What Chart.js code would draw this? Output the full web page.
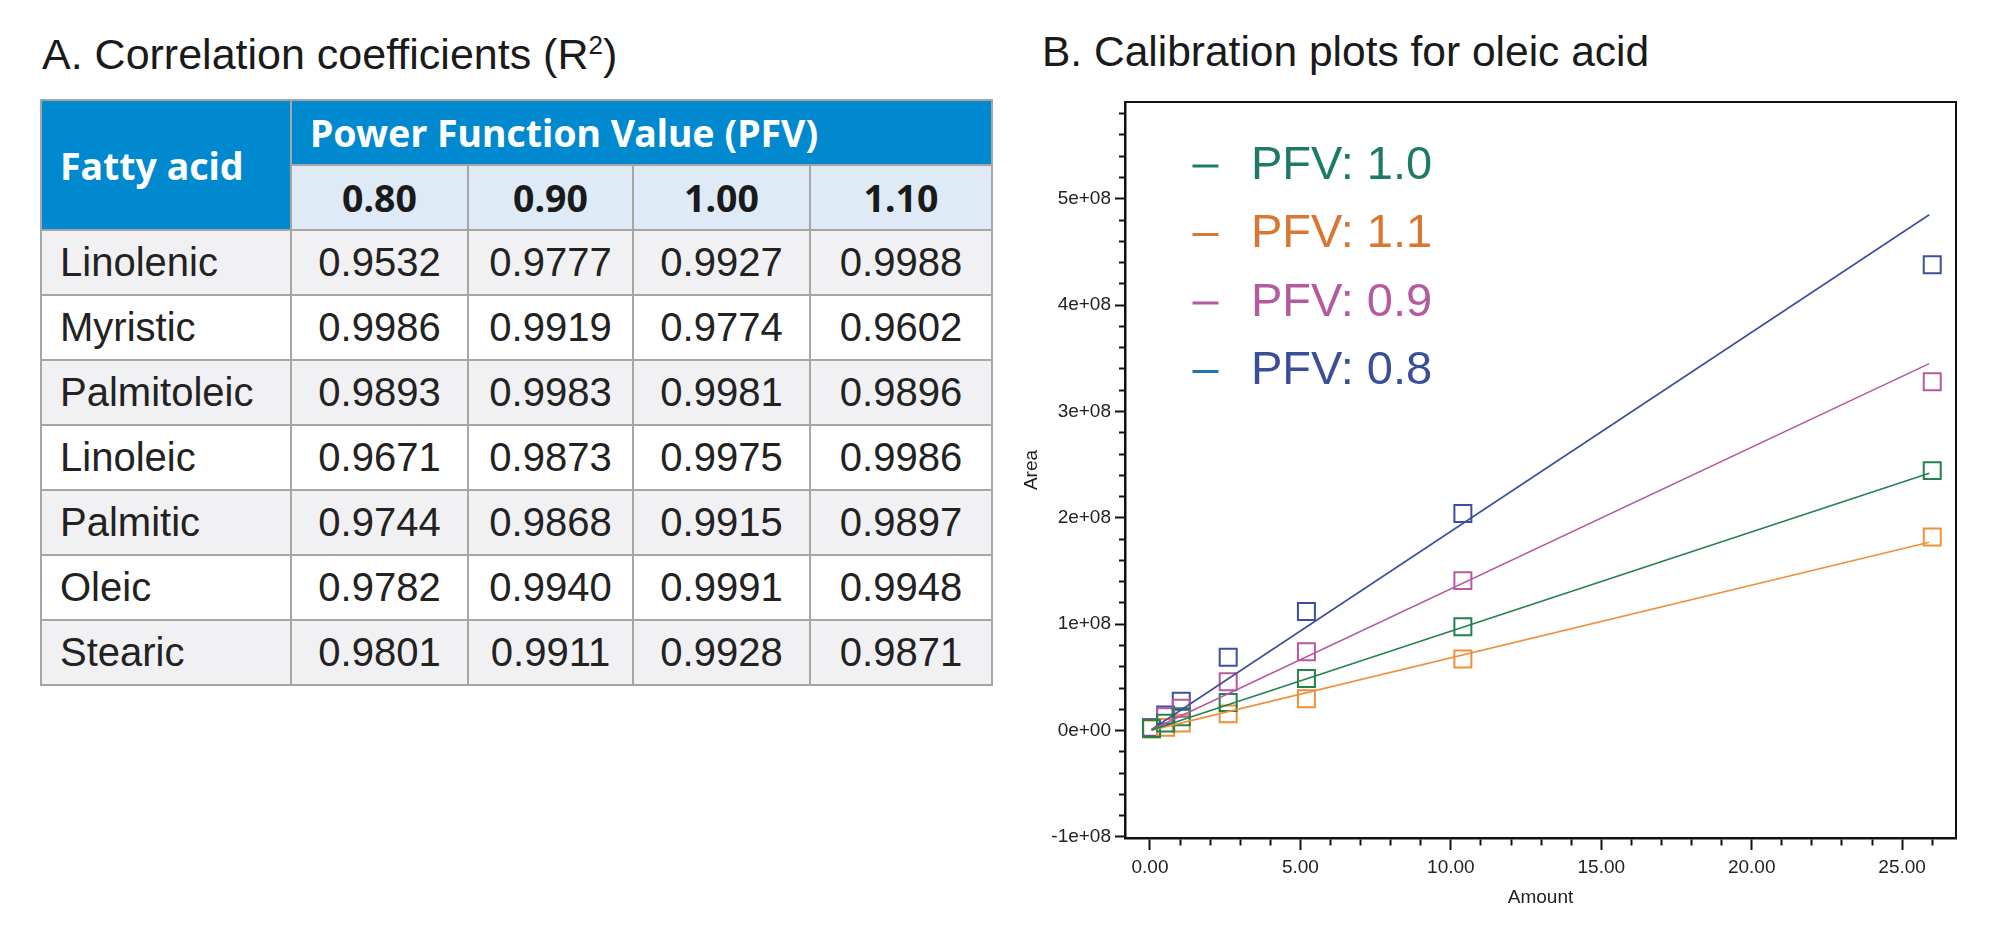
<!DOCTYPE html>
<html>
<head>
<meta charset="utf-8">
<title>Fatty acid calibration</title>
<script src="https://cdn.jsdelivr.net/npm/chart.js@4.4.1/dist/chart.umd.min.js"></script>
<style>
  html, body { margin: 0; padding: 0; background: #fff; }
  body { width: 2000px; height: 931px; position: relative; overflow: hidden;
         font-family: "Liberation Sans", Arial, sans-serif; color: #1a1a1a; }
  .panel-title { position: absolute; line-height: 42px; white-space: nowrap; }
  .panel-title sup { font-size: 26px; line-height: 0; vertical-align: 15px; }
  #titleA { left: 42px; top: 33px; font-size: 43px; }
  #titleB { left: 1042px; top: 31px; font-size: 42.5px; }

  #r2Table { position: absolute; left: 40px; top: 99px; width: 951px;
             border-collapse: collapse; table-layout: fixed; }
  #r2Table th, #r2Table td { border: 2px solid #a6a6a6; padding: 0; }
  #r2Table th { font-family: "Noto Sans", sans-serif; font-weight: 700; font-size: 37.5px; }
  #r2Table thead tr { height: 65px; }
  #r2Table tbody tr { height: 65px; }
  #r2Table th.blue { background: #0089cf; color: #fff; text-align: left; padding-left: 18px; }
  #r2Table th.pfv { background: #deebf7; color: #1a1a1a; text-align: center; }
  #r2Table td { font-size: 40px; color: #222; text-align: center; }
  #r2Table td.name { text-align: left; padding-left: 18px; }
  #r2Table tbody tr:nth-child(odd) td { background: #f1f1f4; }
  #r2Table tbody tr:nth-child(even) td { background: #fff; }

  #chartBox { position: absolute; left: 1000px; top: 80px; width: 1000px; height: 851px; }
</style>
</head>
<body>
<div id="titleA" class="panel-title">A. Correlation coefficients (R<sup>2</sup>)</div>
<div id="titleB" class="panel-title">B. Calibration plots for oleic acid</div>

<table id="r2Table">
  <colgroup>
    <col style="width:250px"><col style="width:177px"><col style="width:165px"><col style="width:177px"><col style="width:182px">
  </colgroup>
  <thead></thead>
  <tbody></tbody>
</table>

<div id="chartBox"><canvas id="calChart"></canvas></div>

<script>
// ── Table A: R² values per fatty acid and PFV ────────────────
const fattyAcids = ["Linolenic", "Myristic", "Palmitoleic", "Linoleic", "Palmitic", "Oleic", "Stearic"];
const pfvHeaders = ["0.80", "0.90", "1.00", "1.10"];
const r2Pfv080 = ["0.9532", "0.9986", "0.9893", "0.9671", "0.9744", "0.9782", "0.9801"];
const r2Pfv090 = ["0.9777", "0.9919", "0.9983", "0.9873", "0.9868", "0.9940", "0.9911"];
const r2Pfv100 = ["0.9927", "0.9774", "0.9981", "0.9975", "0.9915", "0.9991", "0.9928"];
const r2Pfv110 = ["0.9988", "0.9602", "0.9896", "0.9986", "0.9897", "0.9948", "0.9871"];

// ── Chart B: oleic acid calibration points ───────────────────
const amounts   = [0.052, 0.52, 1.04, 2.6, 5.2, 10.4, 26.0];
const areaPfv10 = [0.020e8, 0.070e8, 0.130e8, 0.263e8, 0.490e8, 0.977e8, 2.444e8];
const areaPfv11 = [0.015e8, 0.030e8, 0.070e8, 0.157e8, 0.300e8, 0.674e8, 1.820e8];
const areaPfv09 = [0.025e8, 0.130e8, 0.210e8, 0.460e8, 0.742e8, 1.410e8, 3.280e8];
const areaPfv08 = [0.030e8, 0.147e8, 0.275e8, 0.690e8, 1.120e8, 2.040e8, 4.380e8];

// fitted calibration lines (start / end of each drawn line)
const fitAmounts = [0.052, 25.9];
const fitPfv10   = [0.005e8, 2.42e8];
const fitPfv11   = [0.004e8, 1.77e8];
const fitPfv09   = [0.007e8, 3.45e8];
const fitPfv08   = [0.010e8, 4.85e8];

const seriesLabels = ["PFV: 1.0", "PFV: 1.1", "PFV: 0.9", "PFV: 0.8"];
const seriesAreas  = [areaPfv10, areaPfv11, areaPfv09, areaPfv08];
const seriesFits   = [fitPfv10, fitPfv11, fitPfv09, fitPfv08];
const markerColors = ["#23814f", "#f0903a", "#b8589f", "#3c4f9e"];
const legendText   = ["#1c7a66", "#d9762f", "#b45ba0", "#3a4e9a"];
const legendDash   = ["#1c7a66", "#d9762f", "#b45ba0", "#1e77aa"];

// axis ranges and tick marks (y: minor every 2e7, labelled every 1e8)
const xRange = [-0.83, 26.79];
const yRange = [-1.01e8, 5.91e8];
const yTickFirst = -1e8, yTickLast = 5.8e8, yTickStep = 2e7;

// ── build table ──────────────────────────────────────────────
const thead = document.querySelector("#r2Table thead");
const tbody = document.querySelector("#r2Table tbody");
thead.innerHTML =
  '<tr><th class="blue" rowspan="2">Fatty acid</th>' +
  '<th class="blue" colspan="4">Power Function Value (PFV)</th></tr>' +
  "<tr>" + pfvHeaders.map((h) => `<th class="pfv">${h}</th>`).join("") + "</tr>";
const r2Cols = [r2Pfv080, r2Pfv090, r2Pfv100, r2Pfv110];
fattyAcids.forEach((name, i) => {
  const tr = document.createElement("tr");
  tr.innerHTML = `<td class="name">${name}</td>` + r2Cols.map((c) => `<td>${c[i]}</td>`).join("");
  tbody.appendChild(tr);
});

// ── chart helpers ────────────────────────────────────────────
const FONT = "'Liberation Sans', Arial, sans-serif";
const tickFont = { family: FONT, size: 19 };
Chart.defaults.font.family = FONT;

const isMultiple = (v, step) => Math.abs(v / step - Math.round(v / step)) < 1e-6;
function expLabel(v) {
  if (v === 0) return "0e+00";
  return v.toExponential(0).replace(/e([+-])(\d+)$/, (m, s, d) => "e" + s + d.padStart(2, "0"));
}

// legend sits inside the plot, a bit in from the top-left corner
const legendPlacement = {
  id: "legendPlacement",
  afterLayout(chart) {
    const lg = chart.legend, area = chart.chartArea;
    if (!lg) return;
    lg.left = area.left + 37;
    lg.top = area.top + 19;
    lg.right = area.right;
    lg.bottom = area.bottom;
  },
};

const fitSets = seriesFits.map((fit, i) => ({
  label: seriesLabels[i] + " fit",
  data: fitAmounts.map((a, j) => ({ x: a, y: fit[j] })),
  showLine: true,
  borderColor: markerColors[i],
  borderWidth: 1.6,
  pointRadius: 0,
}));
const pointSets = seriesAreas.map((vals, i) => ({
  label: seriesLabels[i],
  data: amounts.map((a, j) => ({ x: a, y: vals[j] })),
  showLine: false,
  pointStyle: "rect",
  pointRadius: 12,
  pointHoverRadius: 12,
  pointBorderWidth: 2,
  borderColor: markerColors[i],
  backgroundColor: "rgba(0,0,0,0)",
}));

new Chart(document.getElementById("calChart"), {
  type: "scatter",
  data: { datasets: [...fitSets, ...pointSets] },
  plugins: [legendPlacement],
  options: {
    responsive: true,
    maintainAspectRatio: false,
    animation: false,
    devicePixelRatio: 1,
    layout: { padding: { top: 22, right: 44, bottom: 0, left: 0 } },
    plugins: {
      tooltip: { enabled: false },
      legend: {
        position: "chartArea",
        align: "start",
        labels: {
          usePointStyle: true,
          boxWidth: 44,
          boxHeight: 18.4,
          padding: 21.5,
          font: { family: FONT, size: 47 },
          generateLabels: () => seriesLabels.map((text, i) => ({
            text,
            pointStyle: "line",
            rotation: 0,
            lineWidth: 3,
            strokeStyle: legendDash[i],
            fillStyle: legendDash[i],
            fontColor: legendText[i],
            hidden: false,
            datasetIndex: fitSets.length + i,
          })),
        },
      },
    },
    scales: {
      x: {
        type: "linear",
        position: "bottom",
        min: xRange[0],
        max: xRange[1],
        afterFit: (s) => { s.height = 93; },
        ticks: {
          stepSize: 1,
          autoSkip: false,
          includeBounds: false,
          maxRotation: 0,
          padding: 6,
          color: "#222",
          font: tickFont,
          callback: (v) => (isMultiple(v, 5) ? v.toFixed(2) : ""),
        },
        grid: {
          drawOnChartArea: false,
          tickLength: 12,
          tickWidth: 2,
          tickColor: "#111",
          tickBorderDash: (c) => (c.tick && isMultiple(c.tick.value, 5) ? [] : [6, 20]),
        },
        border: { display: true, color: "#111", width: 2.5 },
        title: { display: true, text: "Amount", color: "#222", font: tickFont, padding: { top: 0, bottom: 22 } },
      },
      y: {
        type: "linear",
        position: "left",
        min: yRange[0],
        max: yRange[1],
        afterFit: (s) => { s.width = 125; },
        afterBuildTicks: (s) => {
          const ticks = [];
          for (let v = yTickFirst; v <= yTickLast + 1; v += yTickStep) ticks.push({ value: v });
          s.ticks = ticks;
        },
        ticks: {
          autoSkip: false,
          padding: 4,
          color: "#222",
          font: tickFont,
          callback: (v) => (isMultiple(v, 1e8) ? expLabel(v) : ""),
        },
        grid: {
          drawOnChartArea: false,
          tickLength: 10,
          tickWidth: 2,
          tickColor: "#111",
          tickBorderDash: (c) => (c.tick && isMultiple(c.tick.value, 1e8) ? [] : [6, 4]),
          tickBorderDashOffset: (c) => (c.tick && isMultiple(c.tick.value, 1e8) ? 0 : 6),
        },
        border: { display: true, color: "#111", width: 2.5 },
        title: { display: true, text: "Area", color: "#222", font: tickFont, padding: { top: 20, bottom: 0 } },
      },
      xFrame: {
        type: "linear", position: "top", min: xRange[0], max: xRange[1],
        ticks: { display: false }, grid: { display: false, drawTicks: false },
        border: { display: true, color: "#111", width: 2 },
      },
      yFrame: {
        type: "linear", position: "right", min: yRange[0], max: yRange[1],
        ticks: { display: false }, grid: { display: false, drawTicks: false },
        border: { display: true, color: "#111", width: 2 },
      },
    },
  },
});
</script>
</body>
</html>
